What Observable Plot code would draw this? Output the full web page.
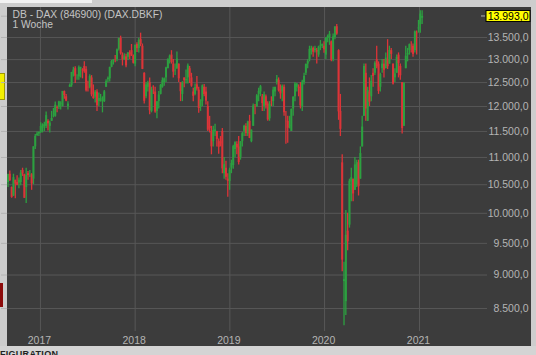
<!DOCTYPE html>
<html><head><meta charset="utf-8">
<script src="https://cdn.jsdelivr.net/npm/d3@7"></script>
<script src="https://cdn.jsdelivr.net/npm/@observablehq/plot@0.6"></script>
<style>
html,body{margin:0;padding:0}
body{width:536px;height:355px;overflow:hidden;position:relative;background:#cdcdcd;font-family:"Liberation Sans",Arial,sans-serif}
#frame{position:absolute;left:7px;top:7px;width:524px;height:339px;background:#3c3c3c}
#bottom{position:absolute;left:0;top:346px;width:536px;height:9px;background:#d4d4d4;overflow:hidden}
#bottom span{position:absolute;left:-21px;top:4px;font-size:9px;line-height:9px;font-weight:bold;color:#222;letter-spacing:0.3px}
.chip{position:absolute}
</style></head><body>
<div class="chip" style="left:0;top:0;width:92px;height:3px;background:#f2f2f2"></div>
<div class="chip" style="left:0;top:73px;width:4px;height:25px;background:#f3f000;border:1px solid #a09a00;border-left:none"></div>
<div class="chip" style="left:0;top:283px;width:3px;height:24px;background:#8c0a0a"></div>
<div id="frame"></div>
<div id="bottom"><span>KONFIGURATION</span></div>
<script>
const title = "DB - DAX (846900) (DAX.DBKF)";
const subtitle = "1 Woche";
const firstWeek = "2016-08-29";
const lastValue = 13993;
const yTicks = [8500, 9000, 9500, 10000, 10500, 11000, 11500, 12000, 12500, 13000, 13500];
const xTicks = ["2017-01-01", "2018-01-01", "2019-01-01", "2020-01-01", "2021-01-01"];
const xDomain = ["2016-08-27", "2021-09-20"];
const yDomain = [8173, 14209];

// weekly open / high / low / close
const open = [
 10540,10690,10450,10300,10580,10540,10530,10540,10760,10680,10450,10700,10700,10680,10600,11200,11420,11450,
 11480,11560,11600,11600,11700,11600,11700,11800,11800,11980,11980,12050,12000,12310,12200,12000,12400,12440,12700,12800,12600,12620,12800,12770,12850,12780,12400,12400,12600,12200,12190,12300,12100,12150,12100,12100,12400,12560,12580,12830,12960,13000,13000,13230,13480,13100,13000,13060,13050,13150,13200,13070,
 12900,13340,13250,13450,13300,12700,12200,12400,12500,11900,12400,12300,11900,12100,12250,12400,12500,12600,12800,13000,13100,12900,12750,12800,12900,12500,12250,12600,12540,12600,12800,12600,12300,12250,12450,12340,11980,12100,12400,12300,12000,11600,11500,11300,11500,11500,11300,11300,11500,10700,10800,10600,
 10560,10800,10850,11150,11250,11200,11000,11300,11500,11600,11450,11700,11300,11600,12000,12000,12250,12300,12200,12000,12200,12050,11750,12100,12100,12300,12500,12550,12350,12300,12400,11700,11700,11600,11500,11950,12200,12400,12400,12400,12000,12500,12700,12900,13000,13200,13250,13200,13200,13100,13300,13300,
 13300,13100,13480,13500,13400,13000,13500,13750,13200,11900,10900,8900,8600,9700,9800,10550,10600,10400,10500,10900,10600,11200,11800,12700,11700,12300,12200,12700,12700,13000,12900,12400,12800,12900,12800,13000,12900,13200,12900,12600,12700,13100,12850,12500,11600,12800,13100,13200,13300,13300,13200,13600,13700,13800,13950
];
const high = [
 10690,10750,10460,10690,10580,10660,10620,10760,10800,10690,10800,10740,10760,10700,11200,11440,11490,11490,
 11670,11650,11680,11890,11730,11700,11900,11960,12090,12010,12110,12100,12310,12320,12250,12100,12470,12720,12830,12840,12670,12860,12830,12800,12950,12840,12530,12670,12650,12450,12330,12350,12280,12250,12200,12330,12560,12620,12830,12980,13000,13090,13240,13480,13530,13150,13130,13120,13150,13200,13340,13100,
 13330,13380,13480,13600,13350,12710,12500,12530,12600,12400,12430,12400,12100,12310,12460,12600,12600,12830,13020,13100,13200,13000,12900,13170,12900,12500,12520,12600,12770,12900,12850,12700,12380,12470,12630,12400,12140,12450,12460,12400,12100,11800,11600,11600,11640,11500,11350,11400,11560,11000,10930,10700,
 10800,10950,11230,11300,11300,11400,11300,11480,11620,11650,11700,11820,11530,12050,12040,12250,12380,12440,12250,12300,12240,12100,12100,12200,12400,12400,12650,12600,12450,12450,12450,11900,11800,11800,11950,12200,12500,12480,12450,12500,12550,12700,12900,13000,13300,13300,13280,13300,13250,13300,13430,13350,
 13400,13500,13560,13640,13420,13580,13750,13800,13220,12250,11050,9200,10050,10000,10600,10800,10600,11000,10950,10950,11200,11800,12900,12900,12400,12600,12650,12800,12950,13300,12950,12700,13000,13000,13150,13450,13300,13250,12900,12800,13100,13150,12900,12500,12500,13300,13250,13350,13400,13350,13650,13650,13900,14130,14130
];
const low = [
 10450,10560,10260,10290,10250,10480,10430,10480,10650,10260,10170,10580,10630,10400,10500,11150,11400,11400,
 11460,11470,11500,11560,11510,11470,11700,11770,11780,11870,11940,11930,11990,12150,12100,11930,12400,12400,12620,12480,12550,12550,12600,12580,12700,12300,12300,12370,12200,12150,12070,11900,12000,12090,11870,12080,12400,12500,12510,12820,12880,12930,12950,13190,13100,12860,12980,12820,12980,13000,13070,12900,
 12840,13160,13150,13290,12780,12050,12160,12300,11830,11870,12250,11860,11750,11950,12240,12380,12420,12500,12800,12900,12900,12600,12650,12780,12500,12100,12100,12390,12470,12470,12480,12400,12100,12220,12320,11860,11900,12000,12200,12030,11500,11470,11050,11200,11400,11200,11060,11200,10700,10600,10580,10280,
 10400,10700,10780,11000,11050,10860,10950,11200,11400,11400,11400,11360,11280,11600,11830,11980,12100,12200,11900,11900,11950,11700,11700,12000,12000,12200,12450,12300,12150,12100,11800,11250,11270,11550,11500,11800,12100,12300,12200,11950,11900,12450,12650,12800,12950,13100,13050,13150,12900,13050,13200,13250,
 13140,13000,13380,13320,12950,12950,13450,13550,11720,11400,9050,8255,8400,9380,9750,10200,10200,10400,10450,10300,10600,11200,11800,11700,11700,12000,12100,12400,12650,12800,12250,12300,12700,12600,12800,12780,12900,13000,12450,12500,12700,12600,12550,11450,11600,12800,12950,13100,13150,13050,13150,13100,13600,13600,13800
];
const close = [
 10684,10573,10276,10627,10511,10490,10580,10711,10696,10259,10668,10665,10700,10513,11203,11404,11449,11481,
 11599,11630,11630,11814,11651,11666,11757,11804,12027,11963,12095,12064,12313,12225,12109,12049,12438,12717,12770,12638,12602,12823,12815,12753,12733,12325,12389,12631,12240,12163,12298,12014,12165,12168,12142,12304,12518,12592,12829,12956,12992,12991,13217,13478,13127,12993,13060,12861,13153,13103,13072,12918,
 13320,13245,13434,13340,12785,12107,12452,12483,11913,12346,12390,11886,12097,12241,12442,12540,12580,12820,13001,13078,12938,12724,12767,13011,12580,12306,12497,12541,12561,12860,12615,12424,12211,12394,12364,11959,12124,12431,12247,12111,11524,11554,11201,11519,11529,11341,11193,11257,10788,10866,10634,10559,
 10767,10887,11205,11282,11180,10906,11300,11457,11602,11458,11686,11364,11526,12010,11999,12222,12315,12412,12060,12239,12011,11727,12045,12096,12340,12399,12569,12323,12260,12419,11872,11694,11563,11612,11939,12192,12469,12468,12381,12013,12511,12634,12894,12961,13229,13242,13164,13236,13167,13283,13319,13337,
 13219,13483,13526,13577,12982,13514,13745,13579,11890,11541,9232,8929,9632,9525,10565,10626,10336,10861,10904,10465,11074,11587,12848,11949,12331,12089,12528,12633,12920,12838,12313,12674,12901,12765,13033,12843,13203,13116,12469,12689,13051,12909,12646,11556,12480,13077,13137,13336,13298,13114,13630,13587,13719,14049,13993
];

const deFmt = d3.formatLocale({decimal: ",", thousands: ".", grouping: [3], currency: ["", "€"]}).format(",.1f");
const start = new Date(firstWeek + "T00:00:00Z");
const data = open.map((o, i) => ({
  date: d3.utcMonday.offset(start, i),
  open: o, high: high[i], low: low[i], close: close[i],
  dir: close[i] >= o ? "up" : "down"
}));
const xt = xTicks.map(d => new Date(d + "T00:00:00Z"));
const xd = xDomain.map(d => new Date(d + "T00:00:00Z"));
const font = '"Liberation Sans", Arial, sans-serif';

const chart = Plot.plot({
  width: 524, height: 339,
  marginLeft: 0, marginRight: 44, marginTop: 0, marginBottom: 15,
  style: {background: "transparent", fontFamily: font, fontSize: "10.5px", color: "#b4b4b4", overflow: "visible"},
  x: {type: "utc", domain: xd},
  y: {type: "log", domain: yDomain},
  color: {domain: ["up", "down"], range: ["#2ca040", "#dc3438"]},
  marks: [
    Plot.gridX(xt, {stroke: "#575757", strokeOpacity: 1}),
    Plot.gridY(yTicks, {stroke: "#575757", strokeOpacity: 1}),
    Plot.axisX(xt, {tickSize: 0, tickPadding: 5, dx: -1, tickFormat: d3.utcFormat("%Y"), fill: "#b4b4b4"}),
    Plot.text(yTicks, {x: () => xd[1], y: d => d, text: d => deFmt(d), textAnchor: "end", dx: 41, fill: "#b4b4b4"}),
    Plot.ruleX(data, {x: "date", y1: "low", y2: "high", stroke: "dir", strokeWidth: 1.3}),
    Plot.ruleX(data, {x: "date", y1: "open", y2: "close", stroke: "dir", strokeWidth: 2}),
    Plot.text([title], {x: () => xd[0], y: () => yDomain[1], textAnchor: "start", lineAnchor: "top", dx: 5, dy: 3, fill: "#c4c4c4", fontSize: 10.3}),
    Plot.text([subtitle], {x: () => xd[0], y: () => yDomain[1], textAnchor: "start", lineAnchor: "top", dx: 5, dy: 13.5, fill: "#c4c4c4", fontSize: 10.3}),
    Plot.text([lastValue], {x: () => xd[1], y: d => d, text: d => deFmt(d), textAnchor: "end", dx: 41, fill: "#000", fontSize: 10.5})
  ]
});
document.getElementById("frame").appendChild(chart);

// yellow marker box behind the last-value label, positioned from the scales
const yy = chart.scale("y").apply(lastValue);
const xr = chart.scale("x").apply(xd[1]);
const ns = "http://www.w3.org/2000/svg";
const lastG = chart.querySelector(":scope > g:last-of-type");
const rect = document.createElementNS(ns, "rect");
rect.setAttribute("x", xr - 1); rect.setAttribute("y", yy - 5.5);
rect.setAttribute("width", 44); rect.setAttribute("height", 11);
rect.setAttribute("fill", "#ffff00"); rect.setAttribute("stroke", "#000"); rect.setAttribute("stroke-width", 1);
chart.insertBefore(rect, lastG);
const dash = document.createElementNS(ns, "line");
dash.setAttribute("x1", xr - 6); dash.setAttribute("x2", xr - 2);
dash.setAttribute("y1", yy); dash.setAttribute("y2", yy);
dash.setAttribute("stroke", "#b4b4b4");
chart.insertBefore(dash, lastG);
</script>
</body></html>
